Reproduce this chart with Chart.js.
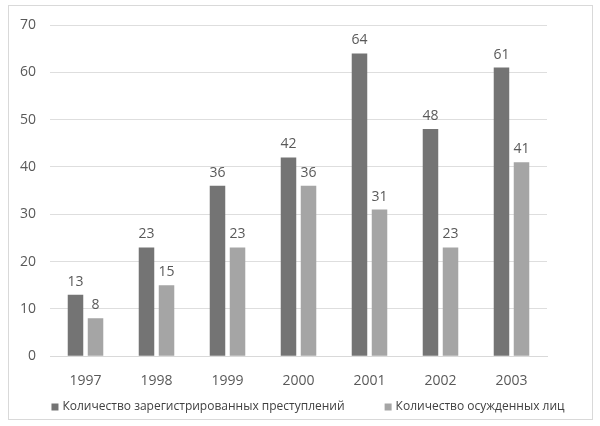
<!DOCTYPE html>
<html>
<head>
<meta charset="utf-8">
<script src="https://cdn.jsdelivr.net/npm/chart.js@4"></script>
<style>
  body { margin: 0; background: #fff; }
  #box { position: absolute; left: 8px; top: 5px; width: 585px; height: 415px; border: 1px solid #d9d9d9; box-sizing: border-box; }
  #wrap { position: absolute; left: 0; top: 0; right: 0; bottom: 0; }
</style>
</head>
<body>
<div id="box"><div id="wrap"><canvas id="chart"></canvas></div></div>
<script>
const years = ['1997', '1998', '1999', '2000', '2001', '2002', '2003'];
const registered = [13, 23, 36, 42, 64, 48, 61];
const convicted = [8, 15, 23, 36, 31, 23, 41];
const yTicks = [0, 10, 20, 30, 40, 50, 60, 70];

// value above each bar
const labelPlugin = {
    id: 'valueLabels',
    afterDatasetsDraw(chart) {
        const ctx = chart.ctx;
        ctx.save();
        ctx.font = '14px "Open Sans"';
        ctx.fillStyle = '#595959';
        ctx.textAlign = 'center';
        ctx.textBaseline = 'bottom';
        chart.data.datasets.forEach((ds, i) => {
            chart.getDatasetMeta(i).data.forEach((bar, j) => {
                ctx.fillText(ds.data[j], bar.x, bar.y - 6);
            });
        });
        ctx.restore();
    }
};

// bottom legend with wider spacing than the built-in one
const legendPlugin = {
    id: 'bottomLegend',
    afterDraw(chart) {
        const ctx = chart.ctx;
        const box = 7, textGap = 4, itemGap = 40;
        ctx.save();
        ctx.font = '12px "Open Sans"';
        ctx.textBaseline = 'middle';
        const items = chart.data.datasets.map(ds => ({ text: ds.label, color: ds.backgroundColor, w: ctx.measureText(ds.label).width }));
        const total = items.reduce((s, it) => s + box + textGap + it.w, 0) + itemGap * (items.length - 1);
        let x = 299 - total / 2;
        const y = chart.height - 12;
        items.forEach(it => {
            ctx.fillStyle = it.color;
            ctx.fillRect(x, y - box / 2, box, box);
            x += box + textGap;
            ctx.fillStyle = '#404040';
            ctx.fillText(it.text, x, y);
            x += it.w + itemGap;
        });
        ctx.restore();
    }
};

const ctx = document.getElementById('chart').getContext('2d');
const chart = new Chart(ctx, {
    type: 'bar',
    data: {
        labels: years,
        datasets: [
            { label: 'Количество зарегистрированных преступлений', data: registered, backgroundColor: '#747474' },
            { label: 'Количество осужденных лиц', data: convicted, backgroundColor: '#a5a5a5' }
        ]
    },
    options: {
        responsive: true,
        maintainAspectRatio: false,
        animation: false,
        categoryPercentage: 0.564,
        barPercentage: 0.775,
        layout: { padding: { left: 11, right: 0, top: 19, bottom: 22 } },
        scales: {
            x: {
                grid: { display: false },
                border: { display: true, color: '#d9d9d9' },
                ticks: { color: '#595959', font: { family: 'Open Sans', size: 14 }, padding: 8 }
            },
            y: {
                min: 0, max: 70,
                afterBuildTicks: (axis) => { axis.ticks = yTicks.map(v => ({ value: v })); },
                grid: { color: '#dedede', drawTicks: true, tickLength: 14, tickColor: '#fff' },
                border: { display: false },
                ticks: { color: '#595959', font: { family: 'Open Sans', size: 14 }, padding: 0 }
            },
            spacer: {
                position: 'right',
                grid: { display: false },
                border: { display: false },
                ticks: { display: false },
                afterFit: (axis) => { axis.width = 45; }
            }
        },
        plugins: {
            legend: { display: false },
            tooltip: { enabled: false }
        }
    },
    plugins: [labelPlugin, legendPlugin]
});
</script>
</body>
</html>
